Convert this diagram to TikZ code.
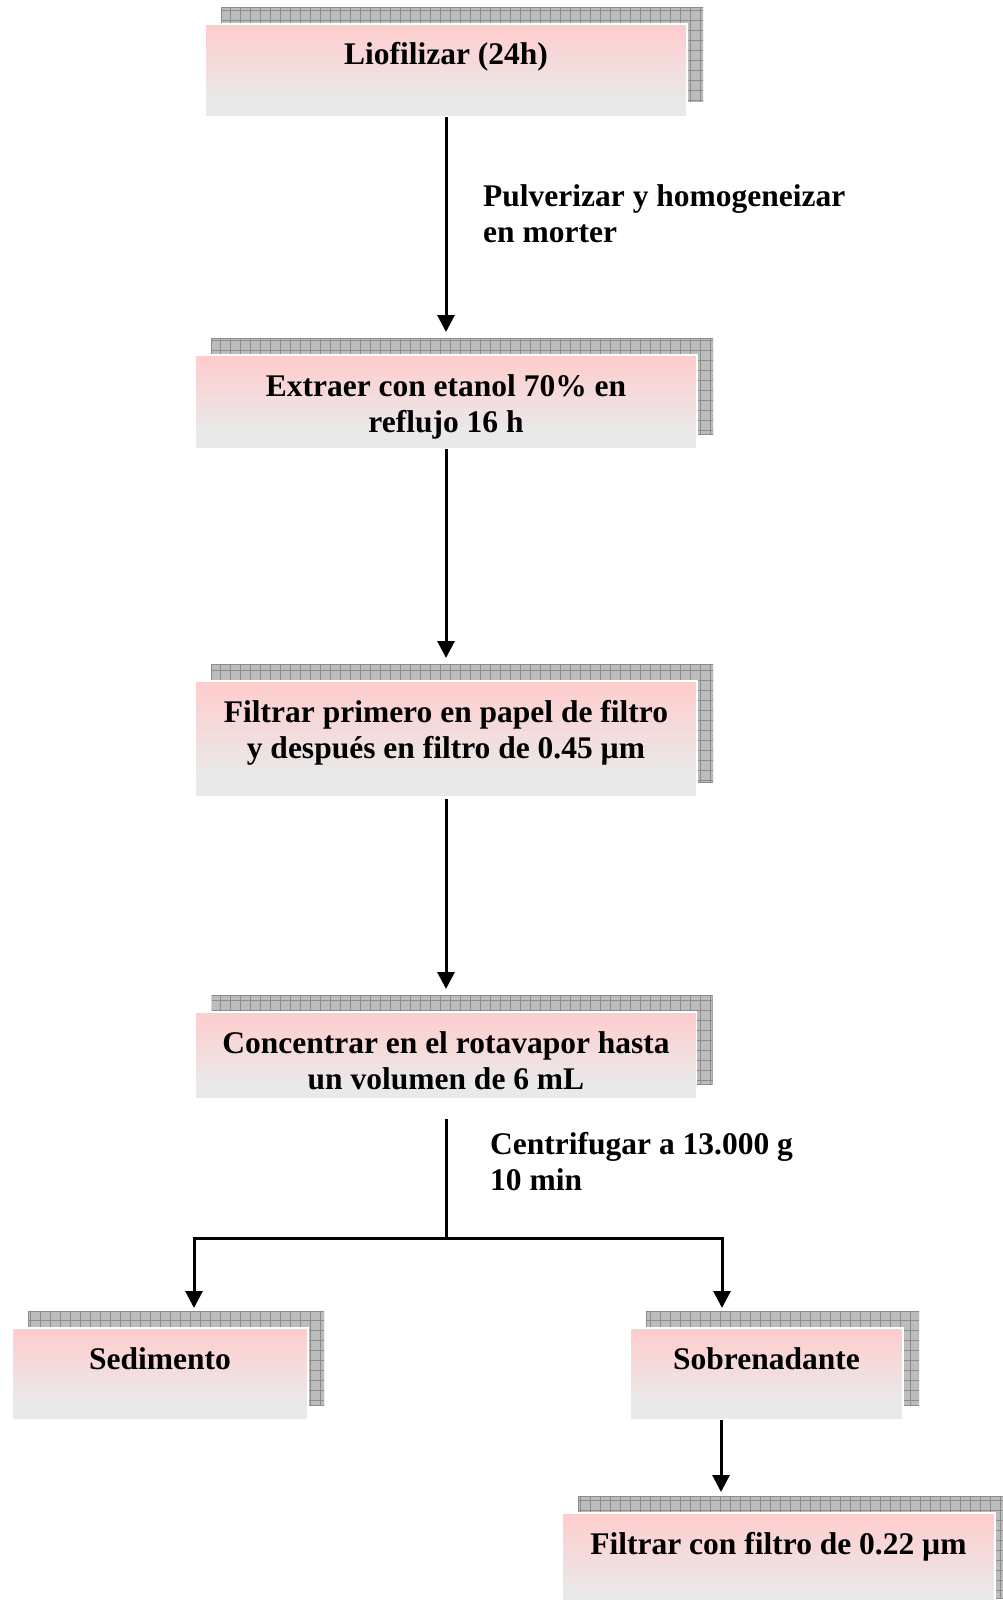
\documentclass[tikz,border=0pt]{standalone}
\usepackage{fontspec}
\setmainfont{Liberation Serif}
\usetikzlibrary{arrows.meta,calc}
\definecolor{bpink}{RGB}{255,204,204}
\definecolor{bgray}{RGB}{234,233,233}
\definecolor{shfill}{RGB}{188,188,188}
\definecolor{shline}{RGB}{140,140,140}
\pgfdeclareverticalshading{pinkgray}{100bp}{color(0bp)=(bgray); color(35bp)=(bgray); color(75bp)=(bpink); color(100bp)=(bpink)}
\tikzset{
  pbox/.style={shading=pinkgray, draw=white, line width=1.5pt, inner sep=0pt, outer sep=0pt},
  shadowfill/.style={fill=shfill},
  gridline/.style={draw=shline, line width=0.8pt},
  arr/.style={line width=3pt, -{Triangle[length=17pt,width=17pt]}},
  conn/.style={line width=3pt},
  lbl/.style={inner sep=0pt, font=\bfseries\fontsize{31.5}{36.5}\selectfont}
}
\newcommand\flowbox[6]{%
  \begin{scope}
    \clip (#2-#4/2+16,#3-17) rectangle (#2+#4/2+16,#3+#5-15);
    \fill[shadowfill] (#2-#4/2+16,#3-17) rectangle (#2+#4/2+16,#3+#5-15);
    \draw[gridline, step=10pt] (#2-#4/2+16,#3-17) grid (#2+#4/2+16,#3+#5-15);
    \draw[gridline] (#2-#4/2+16,#3-17) rectangle (#2+#4/2+16,#3+#5-15);
  \end{scope}
  \node[pbox, lbl, minimum width=#4, minimum height=#5, anchor=north] (#1) at (#2,#3)
    {\parbox[c][#5pt][t]{#4pt}{\centering\rule{0pt}{41pt}#6}};
}
\begin{document}
\begin{tikzpicture}[x=1pt,y=-1pt]
\useasboundingbox (0,0) rectangle (1003,1600);
\clip (0,0) rectangle (1003,1600);
\fill[white] (0,0) rectangle (1003,1600);

\flowbox{b1}{446}{24}{482}{93}{Liofilizar (24h)}
\flowbox{b2}{446}{355}{502}{94}{Extraer con etanol 70\% en\\reflujo 16 h}
\flowbox{b3}{446}{681}{502}{116}{Filtrar primero en papel de filtro\\y después en filtro de 0.45 µm}
\flowbox{b4}{446}{1012}{501}{87}{Concentrar en el rotavapor hasta\\un volumen de 6 mL}
\flowbox{b5}{160}{1328}{296}{92}{Sedimento}
\flowbox{b6}{766.5}{1328}{273}{92}{Sobrenadante}
\flowbox{b7}{778.5}{1513}{433}{100}{Filtrar con filtro de 0.22 µm}

\node[lbl, anchor=base west] (t1) at (483,206)
  {\parbox[t]{420pt}{\raggedright Pulverizar y homogeneizar\\en morter}};
\node[lbl, anchor=base west] (t2) at (490,1154)
  {\parbox[t]{420pt}{\raggedright Centrifugar a 13.000 g\\10 min}};

\coordinate (s4) at ($(b4.south)+(0,20)$);
\coordinate (br) at (446,1238);
\coordinate (bl) at (194,1238);
\coordinate (brr) at (722,1238);
\coordinate (x6) at (721,0);

\draw[arr] (b1.south) -- ([yshift=23pt]b2.north);
\draw[arr] (b2.south) -- ([yshift=23pt]b3.north);
\draw[arr] ([yshift=-2pt]b3.south) -- ([yshift=23pt]b4.north);
\draw[conn] (s4) -- (s4 |- br);
\draw[conn, line cap=rect] (bl) -- (brr);
\draw[arr] (bl) -- ([yshift=20pt]bl |- b5.north);
\draw[arr] (brr) -- ([yshift=20pt]brr |- b6.north);
\draw[arr] (b6.south -| x6) -- ([yshift=21pt]b7.north -| x6);
\end{tikzpicture}
\end{document}
